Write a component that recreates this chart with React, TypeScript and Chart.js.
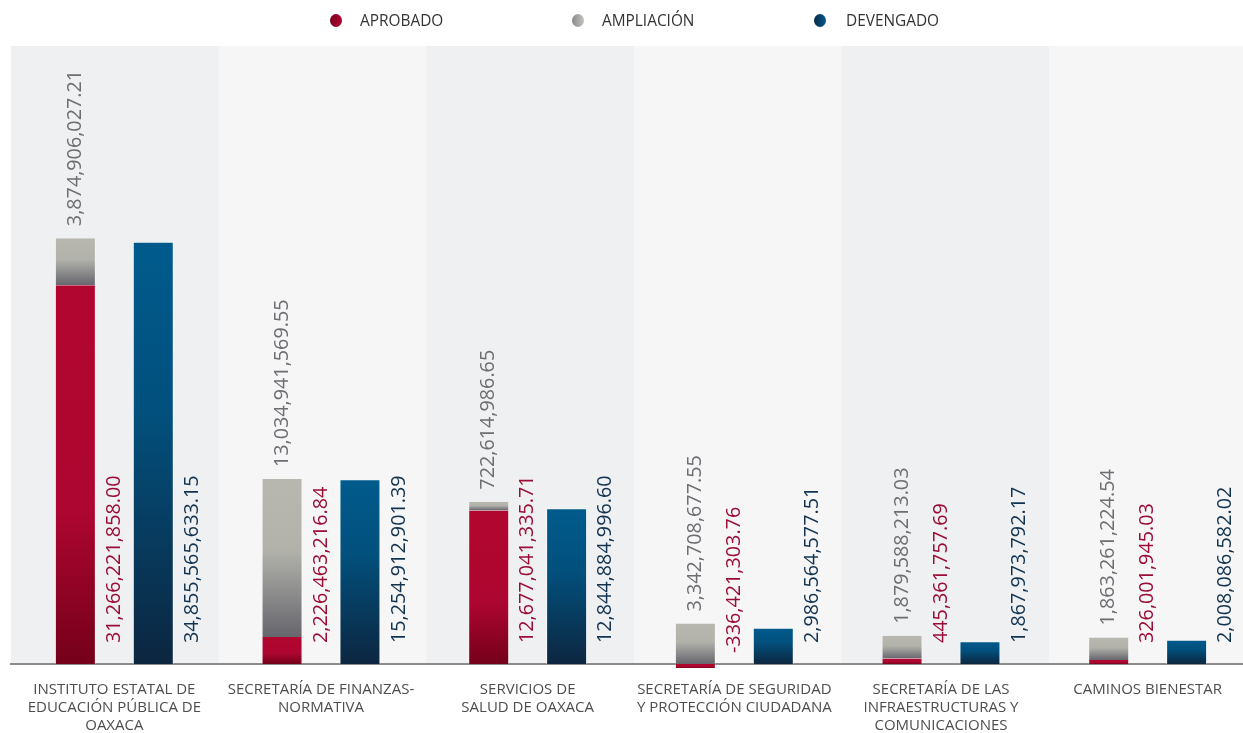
import React, { useEffect, useRef } from "react";
import { Chart, registerables } from "chart.js";

Chart.register(...registerables);

const categories: string[][] = [
  ["INSTITUTO ESTATAL DE", "EDUCACIÓN PÚBLICA DE", "OAXACA"],
  ["SECRETARÍA DE FINANZAS-", "NORMATIVA"],
  ["SERVICIOS DE", "SALUD DE OAXACA"],
  ["SECRETARÍA DE SEGURIDAD", "Y PROTECCIÓN CIUDADANA"],
  ["SECRETARÍA DE LAS", "INFRAESTRUCTURAS Y", "COMUNICACIONES"],
  ["CAMINOS BIENESTAR"],
];

const aprobado: number[] = [
  31266221858.0, 2226463216.84, 12677041335.71, -336421303.76, 445361757.69, 326001945.03,
];
const ampliacion: number[] = [
  3874906027.21, 13034941569.55, 722614986.65, 3342708677.55, 1879588213.03, 1863261224.54,
];
const devengado: number[] = [
  34855565633.15, 15254912901.39, 12844884996.6, 2986564577.51, 1867973792.17, 2008086582.02,
];

const seriesNames = ["APROBADO", "AMPLIACIÓN", "DEVENGADO"];

const FONT = "'Open Sans', 'DejaVu Sans', sans-serif";
const BAND_WIDTH = 207.6;

const fmt = (v: number) =>
  v.toLocaleString("en-US", { minimumFractionDigits: 2, maximumFractionDigits: 2 });

type Stops = [number, string][];
const redStops: Stops = [
  [0, "#b1062f"],
  [0.6, "#ad0630"],
  [1, "#74001a"],
];
const grayStops: Stops = [
  [0, "#b8b8b0"],
  [0.45, "#b2b2ab"],
  [1, "#66666d"],
];
const blueStops: Stops = [
  [0, "#005b8c"],
  [0.4, "#02507d"],
  [1, "#0c2640"],
];

function makeGradient(ctx: any, stops: Stops, range: (i: number) => [number, number], solid: string) {
  if (ctx.type !== "data") return solid;
  const chart = ctx.chart;
  const y = chart.scales && chart.scales.y;
  if (!y || !chart.chartArea) return solid;
  const [a, b] = range(ctx.dataIndex);
  const top = y.getPixelForValue(Math.max(a, b));
  const bottom = y.getPixelForValue(Math.min(a, b));
  if (!isFinite(top) || !isFinite(bottom) || bottom - top < 0.5) return solid;
  const g = chart.ctx.createLinearGradient(0, top, 0, bottom);
  stops.forEach(([o, c]) => g.addColorStop(o, c));
  return g;
}

const bandsPlugin = {
  id: "bands",
  beforeDraw(chart: any) {
    const { ctx, chartArea } = chart;
    if (!chartArea) return;
    ctx.save();
    categories.forEach((_, i) => {
      ctx.fillStyle = i % 2 === 0 ? "#eff0f2" : "#f6f6f7";
      ctx.fillRect(
        chartArea.left + i * BAND_WIDTH,
        chartArea.top,
        BAND_WIDTH + 0.5,
        chartArea.bottom - chartArea.top
      );
    });
    ctx.restore();
  },
};

const valueLabelsPlugin = {
  id: "valueLabels",
  afterDatasetsDraw(chart: any) {
    const { ctx, scales } = chart;
    const x = scales.x;
    const y = scales.y;
    const zeroY = y.getPixelForValue(0);
    const m1 = chart.getDatasetMeta(1);
    const m2 = chart.getDatasetMeta(2);
    const draw = (text: string, px: number, py: number, color: string) => {
      ctx.save();
      ctx.translate(px, py);
      ctx.rotate(-Math.PI / 2);
      ctx.font = `19.8px ${FONT}`;
      ctx.fillStyle = color;
      ctx.textAlign = "left";
      ctx.textBaseline = "middle";
      ctx.fillText(text, 0, 0);
      ctx.restore();
    };
    categories.forEach((_, i) => {
      const b1 = m1.data[i];
      const b2 = m2.data[i];
      draw(fmt(ampliacion[i]), b1.x, b1.y - 12, "#6d6e72");
      const aStart = aprobado[i] < 0 ? zeroY - 11 : zeroY - 21;
      draw(fmt(aprobado[i]), x.getPixelForValue(i), aStart, "#9b0d35");
      const slot = b2.width / 0.526;
      draw(fmt(devengado[i]), b2.x + slot / 2, zeroY - 21, "#12334f");
    });
  },
};

export default function App() {
  const canvasRef = useRef<HTMLCanvasElement | null>(null);

  useEffect(() => {
    if (!canvasRef.current) return;
    const sideBorder = { top: 0, bottom: 0, left: 1, right: 1 };
    const chart = new Chart(canvasRef.current, {
      type: "bar",
      data: {
        labels: categories,
        datasets: [
          {
            label: seriesNames[0],
            data: aprobado,
            stack: "a",
            backgroundColor: (c: any) =>
              makeGradient(c, redStops, (i) => [0, aprobado[i]], "#b1062f"),
            borderColor: "rgba(255,255,255,0.3)",
            borderWidth: sideBorder,
            borderSkipped: false,
            clip: false as any,
          },
          {
            label: seriesNames[1],
            data: ampliacion,
            stack: "a",
            backgroundColor: (c: any) =>
              makeGradient(
                c,
                grayStops,
                (i) => {
                  const base = Math.max(aprobado[i], 0);
                  return [base, base + ampliacion[i]];
                },
                "#b8b8b0"
              ),
            borderColor: "rgba(255,255,255,0.3)",
            borderWidth: sideBorder,
            borderSkipped: false,
            clip: false as any,
          },
          {
            label: seriesNames[2],
            data: devengado,
            stack: "b",
            backgroundColor: (c: any) =>
              makeGradient(c, blueStops, (i) => [0, devengado[i]], "#005b8c"),
            borderColor: "rgba(255,255,255,0.45)",
            borderWidth: { top: 1, bottom: 0, left: 1, right: 1 },
            borderSkipped: false,
            clip: false as any,
          },
        ],
      },
      options: {
        responsive: false,
        animation: false,
        categoryPercentage: 0.754,
        barPercentage: 0.526,
        layout: { padding: { left: 11, right: 17, top: 46, bottom: 0 } },
        plugins: {
          legend: { display: false },
          tooltip: { enabled: false },
        },
        scales: {
          x: {
            stacked: true,
            grid: { display: false, drawTicks: false },
            border: { display: true, color: "#8c8c8c", width: 2 },
            ticks: {
              autoSkip: false,
              maxRotation: 0,
              minRotation: 0,
              padding: 17,
              color: "#4d4d4d",
              font: { family: FONT, size: 15, lineHeight: 1.2 },
            },
            afterFit: (s: any) => {
              s.height = 69;
            },
          },
          y: {
            stacked: true,
            display: false,
            min: 0,
            max: 51e9,
          },
        },
      },
      plugins: [bandsPlugin, valueLabelsPlugin],
    } as any);
    return () => chart.destroy();
  }, []);

  const legendItems = [
    { name: seriesNames[0], cx: 336, tx: 360, grad: "linear-gradient(to right, #7a0020, #b1062f)" },
    { name: seriesNames[1], cx: 578, tx: 602, grad: "linear-gradient(to right, #8a8a8e, #c2c2bc)" },
    { name: seriesNames[2], cx: 820, tx: 846, grad: "linear-gradient(to right, #0c2a48, #005b8c)" },
  ];

  return (
    <div
      style={{
        position: "absolute",
        left: 0,
        top: 0,
        width: 1243,
        height: 733,
        overflow: "hidden",
        background: "#ffffff",
      }}
    >
      <canvas
        ref={canvasRef}
        width={1268}
        height={733}
        style={{ position: "absolute", left: 0, top: 0, width: 1268, height: 733 }}
      />
      {legendItems.map((it) => (
        <React.Fragment key={it.name}>
          <div
            style={{
              position: "absolute",
              left: it.cx - 6,
              top: 14,
              width: 12,
              height: 13,
              borderRadius: "50%",
              background: it.grad,
            }}
          />
          <div
            style={{
              position: "absolute",
              left: it.tx,
              top: 11,
              height: 20,
              lineHeight: "20px",
              fontFamily: FONT,
              fontSize: 15.4,
              color: "#333333",
              whiteSpace: "nowrap",
            }}
          >
            {it.name}
          </div>
        </React.Fragment>
      ))}
    </div>
  );
}
